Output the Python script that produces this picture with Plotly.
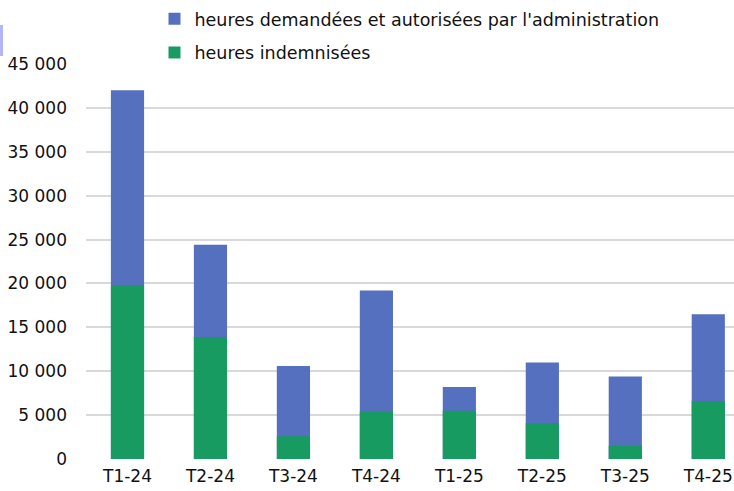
import plotly.graph_objects as go

categories = ["T1-24", "T2-24", "T3-24", "T4-24", "T1-25", "T2-25", "T3-25", "T4-25"]
heures_autorisees = [42000, 24400, 10600, 19200, 8200, 11000, 9400, 16500]
heures_indemnisees = [19800, 13900, 2600, 5400, 5500, 4100, 1500, 6600]
tick_vals = [0, 5000, 10000, 15000, 20000, 25000, 30000, 35000, 40000, 45000]
tick_text = ["0", "5 000", "10 000", "15 000", "20 000", "25 000", "30 000", "35 000", "40 000", "45 000"]

BLUE = "#5570BE"
GREEN = "#179B61"
FONT = "DejaVu Sans"

fig = go.Figure()
fig.add_trace(go.Bar(
    x=categories, y=heures_autorisees,
    name="heures demandées et autorisées par l'administration",
    marker=dict(color=BLUE, line=dict(width=0)), width=0.4,
    legendgroup="a",
))
fig.add_trace(go.Bar(
    x=categories, y=heures_indemnisees,
    name="heures indemnisées",
    marker=dict(color=GREEN, line=dict(width=0)), width=0.4,
    legendgroup="b",
))

fig.update_layout(
    width=734, height=491,
    barmode="overlay",
    plot_bgcolor="white", paper_bgcolor="white",
    margin=dict(l=86, r=0, t=64, b=32, autoexpand=False),
    font=dict(family=FONT, size=17, color="#111111"),
    legend=dict(
        x=0.1057, xanchor="left", y=1.16, yanchor="top",
        orientation="v", font=dict(size=17.5, family=FONT),
        tracegroupgap=8, bgcolor="rgba(0,0,0,0)",
        itemwidth=30,
    ),
    xaxis=dict(
        range=[-0.5, 7.31], showgrid=False, zeroline=False,
        showline=False, ticks="", tickfont=dict(size=17), automargin=False,
        ticklabelstandoff=5,
    ),
    yaxis=dict(
        range=[0, 45000], tickvals=tick_vals, ticktext=tick_text,
        showgrid=True, gridcolor="#d9d9d9", gridwidth=2,
        zeroline=False, showline=False, ticks="", ticklen=0,
        tickfont=dict(size=17), automargin=False, ticklabelstandoff=18,
    ),
    shapes=[dict(type="rect", xref="paper", yref="paper",
                 x0=-86/648, x1=-83/648, y0=1 + (64-25)/395, y1=1 + (64-56)/395,
                 fillcolor="#b4b4f8", line=dict(width=0))],
)

fig.write_html("out.html", config={"displayModeBar": False},
               post_script="document.body.style.margin='0';document.body.style.overflow='hidden';")
